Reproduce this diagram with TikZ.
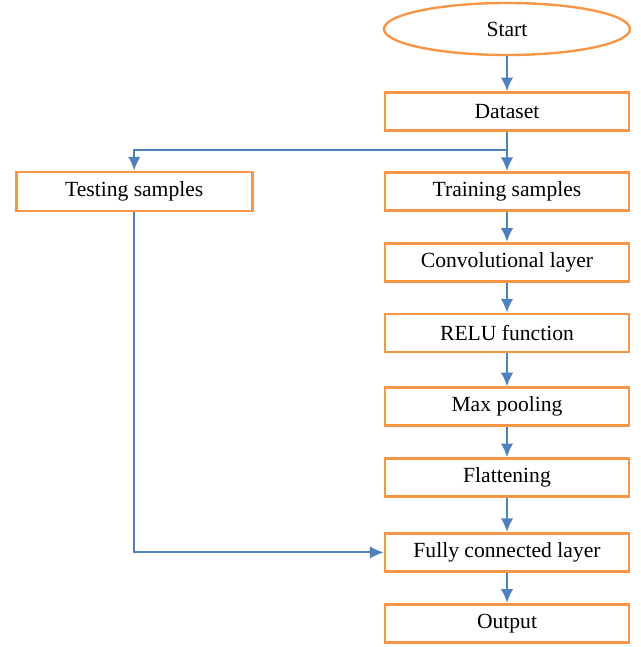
\documentclass[tikz,border=0pt]{standalone}
\usepackage{fontspec}
\setmainfont{Liberation Serif}
\usepackage{tikz}
\usetikzlibrary{arrows.meta,positioning,shapes.geometric}

\definecolor{boxorange}{HTML}{F79646}
\definecolor{lineblue}{HTML}{4F81BD}

\begin{document}
\begin{tikzpicture}[
    font=\fontsize{10.8}{12}\selectfont,
    >=Latex,
    block/.style={draw=boxorange, line width=1.4pt, align=center, minimum height=19pt, minimum width=122pt, inner sep=2pt},
    startblock/.style={ellipse, draw=boxorange, line width=1.2pt, minimum width=123pt, minimum height=26pt},
    arrow/.style={-{Latex[length=2.4mm,width=2.2mm]}, lineblue, line width=1pt}
]
\useasboundingbox (0,0) rectangle (320.5pt,-323.5pt);
\node[startblock] (start) at (253.5pt,-14.5pt) {Start};
\node[block, below=17.5pt of start] (data) {Dataset};
\node[block, below=19.5pt of data] (train) {Training samples};
\node[block, left=65pt of train, minimum width=118pt, minimum height=19.5pt] (test) {Testing samples};
\node[block, below=15pt of train] (conv) {Convolutional layer};
\node[block, below=15pt of conv] (relu) {RELU function};
\node[block, below=16.5pt of relu] (pool) {Max pooling};
\node[block, below=15pt of pool] (flat) {Flattening};
\node[block, below=17pt of flat] (fc) {Fully connected layer};
\node[block, below=15pt of fc] (out) {Output};
\coordinate[below=9pt of data.south] (split);

\draw[arrow] (start) -- (data);
\draw[arrow] (data) -- (train);
\draw[arrow] (split) -| (test);
\draw[arrow] (train) -- (conv);
\draw[arrow] (conv) -- (relu);
\draw[arrow] (relu) -- (pool);
\draw[arrow] (pool) -- (flat);
\draw[arrow] (flat) -- (fc);
\draw[arrow] (test) |- (fc);
\draw[arrow] (fc) -- (out);
\end{tikzpicture}
\end{document}
